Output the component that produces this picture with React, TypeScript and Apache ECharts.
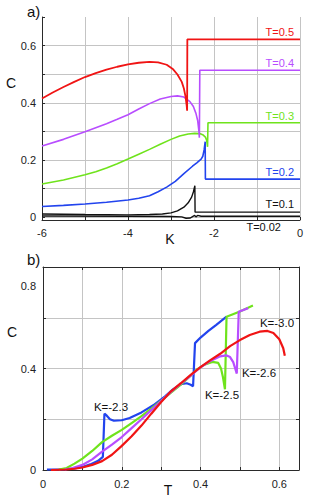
import React, { useEffect, useRef } from 'react';
import * as echarts from 'echarts';

const FONT = '"Liberation Sans", Arial, Helvetica, sans-serif';

// ---------- Panel a) : C versus K ----------
const kT05 = [-6, -5.75, -5.5, -5.25, -5, -4.75, -4.5, -4.25, -4, -3.75, -3.5, -3.3, -3.1, -2.95, -2.85, -2.75, -2.7, -2.66, -2.635, -2.625, -2.62, 0];
const cT05 = [0.415, 0.436, 0.455, 0.473, 0.49, 0.504, 0.516, 0.526, 0.534, 0.54, 0.543, 0.541, 0.533, 0.517, 0.499, 0.473, 0.45, 0.42, 0.39, 0.372, 0.622, 0.622];

const kT04 = [-6, -5.5, -5, -4.5, -4.25, -4, -3.75, -3.5, -3.25, -3.0, -2.85, -2.7, -2.56, -2.48, -2.42, -2.38, -2.35, -2.34, -2.33, 0];
const cT04 = [0.249, 0.272, 0.299, 0.327, 0.342, 0.358, 0.378, 0.397, 0.413, 0.422, 0.424, 0.42, 0.404, 0.387, 0.363, 0.338, 0.3, 0.278, 0.514, 0.514];

const kT03 = [-6, -5.5, -5, -4.75, -4.5, -4.25, -4, -3.75, -3.5, -3.25, -3.0, -2.8, -2.6, -2.45, -2.32, -2.25, -2.2, -2.17, -2.15, -2.14, 0];
const cT03 = [0.116, 0.13, 0.148, 0.159, 0.172, 0.187, 0.203, 0.22, 0.237, 0.255, 0.272, 0.284, 0.291, 0.293, 0.292, 0.287, 0.28, 0.268, 0.246, 0.33, 0.33];

const kT02 = [-6, -5.5, -5, -4.5, -4, -3.75, -3.5, -3.3, -3.1, -2.9, -2.7, -2.5, -2.4, -2.3, -2.26, -2.23, -2.205, -2.2, 0];
const cT02 = [0.037, 0.041, 0.046, 0.052, 0.06, 0.066, 0.075, 0.089, 0.105, 0.125, 0.152, 0.178, 0.19, 0.203, 0.213, 0.235, 0.264, 0.133, 0.133];

const kT01 = [-6, -5, -4, -3.5, -3.2, -3.0, -2.85, -2.7, -2.6, -2.52, -2.48, -2.445, -2.44, 0];
const cT01 = [0.011, 0.009, 0.008, 0.009, 0.011, 0.015, 0.022, 0.035, 0.05, 0.07, 0.088, 0.11, 0.0175, 0.0175];

const kT002 = [-6, -4, -3, -2.75, -2.65, -2.55, -2.5, -2.45, -2.42, -2.38, -2.3, 0];
const cT002 = [0.004, 0.003, 0.002, 0.001, -0.004, -0.003, 0.002, 0.006, 0.001, 0.006, 0.003, 0.003];

// ---------- Panel b) : C versus T ----------
const tK30 = [0.02, 0.04, 0.06, 0.08, 0.1, 0.125, 0.15, 0.175, 0.2, 0.225, 0.25, 0.275, 0.3, 0.325, 0.35, 0.375, 0.4, 0.425, 0.45, 0.475, 0.5, 0.525, 0.55, 0.57, 0.585, 0.6, 0.61, 0.614];
const cK30 = [0, 0.001, 0.002, 0.005, 0.01, 0.02, 0.035, 0.06, 0.095, 0.133, 0.175, 0.222, 0.268, 0.31, 0.342, 0.375, 0.405, 0.433, 0.458, 0.488, 0.512, 0.532, 0.545, 0.548, 0.54, 0.515, 0.48, 0.45];

const tK23 = [0.01, 0.05, 0.08, 0.1, 0.12, 0.14, 0.152, 0.156, 0.162, 0.17, 0.18, 0.2, 0.22, 0.25, 0.28, 0.31, 0.33, 0.35, 0.365, 0.375, 0.381, 0.386, 0.4, 0.42, 0.44, 0.466];
const cK23 = [0.002, 0.002, 0.006, 0.012, 0.022, 0.036, 0.052, 0.222, 0.214, 0.2, 0.194, 0.196, 0.205, 0.227, 0.255, 0.29, 0.318, 0.338, 0.342, 0.336, 0.33, 0.5, 0.522, 0.548, 0.572, 0.604];

const tK25 = [0.04, 0.06, 0.08, 0.1, 0.125, 0.15, 0.175, 0.2, 0.225, 0.25, 0.275, 0.3, 0.325, 0.35, 0.375, 0.39, 0.41, 0.43, 0.445, 0.452, 0.457, 0.462, 0.466, 0.5, 0.533];
const cK25 = [0.002, 0.008, 0.025, 0.045, 0.075, 0.11, 0.135, 0.158, 0.185, 0.212, 0.242, 0.273, 0.305, 0.336, 0.372, 0.395, 0.415, 0.426, 0.422, 0.4, 0.365, 0.318, 0.604, 0.625, 0.648];

const tK26 = [0.055, 0.075, 0.1, 0.125, 0.15, 0.175, 0.2, 0.225, 0.25, 0.275, 0.3, 0.325, 0.35, 0.375, 0.4, 0.425, 0.45, 0.465, 0.475, 0.483, 0.488, 0.492, 0.497, 0.521];
const cK26 = [0.002, 0.008, 0.02, 0.042, 0.072, 0.1, 0.13, 0.165, 0.2, 0.236, 0.272, 0.308, 0.34, 0.372, 0.405, 0.43, 0.448, 0.452, 0.445, 0.425, 0.4, 0.38, 0.624, 0.638];

// ---------- Texts ----------
const panelATexts = [
  { text: 'T=0.5', color: '#f01414', y: 32 },
  { text: 'T=0.4', color: '#b84dff', y: 63 },
  { text: 'T=0.3', color: '#6fe31c', y: 116 },
  { text: 'T=0.2', color: '#2244ee', y: 172 },
  { text: 'T=0.1', color: '#111111', y: 204 },
];
const panelBTexts = [
  { text: 'K=-2.3', x: 111, y: 407 },
  { text: 'K=-2.5', x: 222, y: 395 },
  { text: 'K=-2.6', x: 259, y: 373 },
  { text: 'K=-3.0', x: 277, y: 323 },
];

const RED = '#f01414';
const PURPLE = '#b84dff';
const GREEN = '#6fe31c';
const BLUE = '#2244ee';
const BLACK = '#111111';
const AXIS = '#2a2a2a';
const GRID = '#c4c4c4';

const zip = (a: number[], b: number[]) => a.map((v, i) => [v, b[i]]);

const evenTenths = (v: number) => {
  const r = Math.round(v * 10);
  if (Math.abs(v * 10 - r) > 1e-6) return '';
  if (r % 2 !== 0) return '';
  return String(r / 10);
};

const labelStyle = { color: '#222', fontSize: 11, fontFamily: FONT };

function lineSeries(name: string, data: number[][], color: string, width: number, xi: number, yi: number) {
  return {
    type: 'line',
    name,
    xAxisIndex: xi,
    yAxisIndex: yi,
    data,
    showSymbol: false,
    symbol: 'none',
    smooth: false,
    clip: true,
    lineStyle: { color, width },
    itemStyle: { color },
  };
}

export default function App() {
  const ref = useRef<HTMLDivElement>(null);
  useEffect(() => {
    const chart = echarts.init(ref.current!, null, { renderer: 'svg' });
    const option: any = {
      animation: false,
      backgroundColor: '#ffffff',
      grid: [
        { left: 42, top: 17, width: 258, height: 203 },
        { left: 43, top: 267, width: 256, height: 203 },
      ],
      xAxis: [
        {
          type: 'value', gridIndex: 0, min: -6, max: 0, interval: 1, position: 'bottom',
          axisLine: { show: true, onZero: false, lineStyle: { color: AXIS } },
          axisTick: { show: true, inside: true, length: 3, lineStyle: { color: AXIS } },
          axisLabel: { ...labelStyle, margin: 7, formatter: (v: number) => (Math.round(v) % 2 === 0 ? String(Math.round(v)) : '') },
          splitLine: { show: true, lineStyle: { color: GRID, width: 1 } },
        },
        {
          type: 'value', gridIndex: 1, min: 0, max: 0.65, interval: 0.1, position: 'bottom',
          axisLine: { show: true, onZero: false, lineStyle: { color: AXIS } },
          axisTick: { show: true, inside: true, length: 3, lineStyle: { color: AXIS } },
          axisLabel: { ...labelStyle, margin: 8, formatter: evenTenths, showMaxLabel: false },
          splitLine: { show: true, lineStyle: { color: GRID, width: 1 } },
        },
        {
          type: 'value', gridIndex: 1, min: 0, max: 0.65, interval: 0.1, position: 'top',
          axisLine: { show: true, onZero: false, lineStyle: { color: AXIS } },
          axisTick: { show: true, inside: true, length: 3, lineStyle: { color: AXIS } },
          axisLabel: { show: false },
          splitLine: { show: false },
        },
      ],
      yAxis: [
        {
          type: 'value', gridIndex: 0, min: -0.01, max: 0.7, splitNumber: 7, position: 'left',
          axisLine: { show: true, onZero: false, lineStyle: { color: AXIS } },
          axisTick: { show: true, inside: true, length: 3, lineStyle: { color: AXIS } },
          axisLabel: { ...labelStyle, margin: 6, formatter: evenTenths },
          splitLine: { show: true, showMaxLine: false, lineStyle: { color: GRID, width: 1 } },
        },
        {
          type: 'value', gridIndex: 1, min: 0, max: 0.8, interval: 0.2, position: 'left',
          axisLine: { show: true, onZero: false, lineStyle: { color: AXIS } },
          axisTick: { show: true, inside: true, length: 3, lineStyle: { color: AXIS } },
          axisLabel: {
            ...labelStyle, margin: 7,
            formatter: (v: number) => {
              const r = Math.round(v * 10);
              if (r === 0) return '0';
              if (r === 4) return '0.4';
              if (r === 8) return '{lo|0.8}';
              return '';
            },
            rich: { lo: { color: '#222', fontSize: 11, fontFamily: FONT, padding: [37, 0, 0, 0] } },
          },
          splitLine: { show: true, lineStyle: { color: GRID, width: 1 } },
        },
        {
          type: 'value', gridIndex: 1, min: 0, max: 0.8, interval: 0.2, position: 'right',
          axisLine: { show: true, onZero: false, lineStyle: { color: AXIS } },
          axisTick: { show: true, inside: true, length: 3, lineStyle: { color: AXIS } },
          axisLabel: { show: false },
          splitLine: { show: false },
        },
      ],
      series: [
        lineSeries('T=0.02', zip(kT002, cT002), BLACK, 1.4, 0, 0),
        lineSeries('T=0.1', zip(kT01, cT01), BLACK, 1.4, 0, 0),
        lineSeries('T=0.2', zip(kT02, cT02), BLUE, 1.6, 0, 0),
        lineSeries('T=0.3', zip(kT03, cT03), GREEN, 1.6, 0, 0),
        lineSeries('T=0.4', zip(kT04, cT04), PURPLE, 1.6, 0, 0),
        lineSeries('T=0.5', zip(kT05, cT05), RED, 1.8, 0, 0),
        lineSeries('K=-2.3', zip(tK23, cK23), BLUE, 2.2, 1, 1),
        lineSeries('K=-2.5', zip(tK25, cK25), GREEN, 2.2, 1, 1),
        lineSeries('K=-2.6', zip(tK26, cK26), PURPLE, 2.2, 1, 1),
        lineSeries('K=-3.0', zip(tK30, cK30), RED, 2.2, 1, 1),
      ],
      graphic: [
        { type: 'text', x: 27, y: 11, style: { text: 'a)', fill: '#111', font: `15px ${FONT}`, textAlign: 'left', textVerticalAlign: 'middle', verticalAlign: 'middle' } },
        { type: 'text', x: 27, y: 259, style: { text: 'b)', fill: '#111', font: `15px ${FONT}`, textAlign: 'left', textVerticalAlign: 'middle', verticalAlign: 'middle' } },
        { type: 'text', x: 11, y: 83, style: { text: 'C', fill: '#111', font: `14px ${FONT}`, textAlign: 'center', textVerticalAlign: 'middle', verticalAlign: 'middle' } },
        { type: 'text', x: 170, y: 239, style: { text: 'K', fill: '#111', font: `14px ${FONT}`, textAlign: 'center', textVerticalAlign: 'middle', verticalAlign: 'middle' } },
        { type: 'text', x: 12, y: 332, style: { text: 'C', fill: '#111', font: `14px ${FONT}`, textAlign: 'center', textVerticalAlign: 'middle', verticalAlign: 'middle' } },
        { type: 'text', x: 168, y: 490, style: { text: 'T', fill: '#111', font: `14px ${FONT}`, textAlign: 'center', textVerticalAlign: 'middle', verticalAlign: 'middle' } },
        ...panelATexts.map((t) => ({
          type: 'text', x: 294, y: t.y, z: 10,
          style: { text: t.text, fill: t.color, font: `11px ${FONT}`, textAlign: 'right', textVerticalAlign: 'middle', verticalAlign: 'middle' },
        })),
        { type: 'text', x: 281, y: 227, style: { text: 'T=0.02', fill: '#111', font: `11px ${FONT}`, textAlign: 'right', textVerticalAlign: 'middle', verticalAlign: 'middle' } },
        ...panelBTexts.map((t) => ({
          type: 'text', x: t.x, y: t.y, z: 10,
          style: { text: t.text, fill: '#111', font: `11.5px ${FONT}`, textAlign: 'center', textVerticalAlign: 'middle', verticalAlign: 'middle' },
        })),
      ],
    };
    chart.setOption(option);
    return () => chart.dispose();
  }, []);
  return (
    <div
      ref={ref}
      style={{ position: 'absolute', left: 0, top: 0, width: 332, height: 498, background: '#fff' }}
    />
  );
}
